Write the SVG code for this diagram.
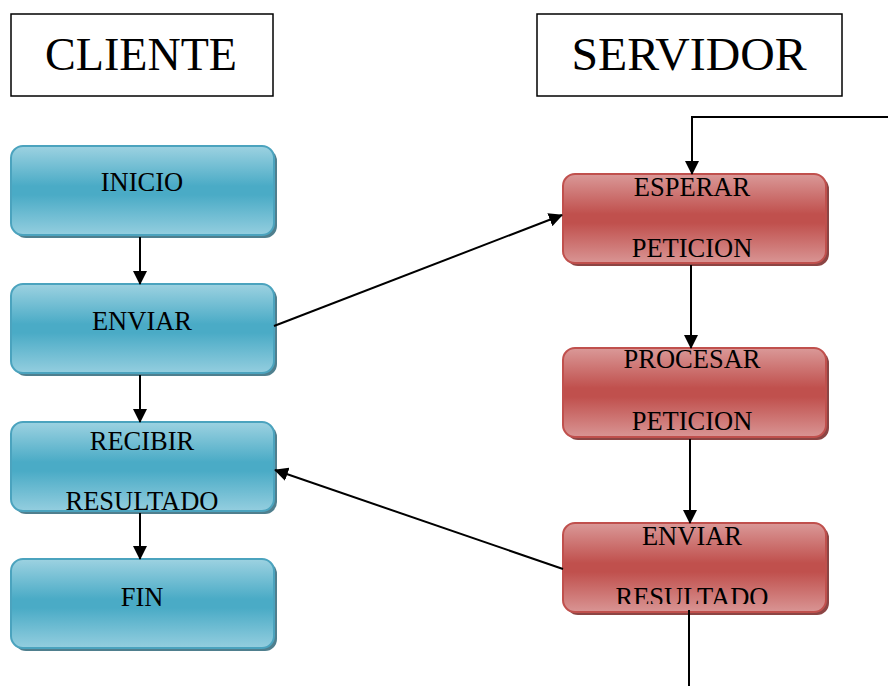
<svg xmlns="http://www.w3.org/2000/svg" width="888" height="686" viewBox="0 0 888 686">
<style>
.hdr{fill:#fff;stroke:#000;stroke-width:1.5}
.htxt{font-family:"Liberation Serif",serif;font-size:47px;fill:#000;text-anchor:middle}
.blue{fill:url(#gb);stroke:#4ba3be;stroke-width:2}
.red{fill:url(#gr);stroke:#c0504d;stroke-width:2}
.bsh{fill:#4f7f8e}
.rsh{fill:#8c4544}
.t{font-family:"Liberation Serif",serif;font-size:26.5px;fill:#000;text-anchor:middle}
.c{stroke:#000;stroke-width:2;fill:none}
</style>
<defs>
<linearGradient id="gb" x1="0" y1="0" x2="0" y2="1">
<stop offset="0" stop-color="#9dd2e1"/>
<stop offset="0.45" stop-color="#4aabc6"/>
<stop offset="0.55" stop-color="#4aabc6"/>
<stop offset="1" stop-color="#94cedf"/>
</linearGradient>
<linearGradient id="gr" x1="0" y1="0" x2="0" y2="1">
<stop offset="0" stop-color="#da9998"/>
<stop offset="0.45" stop-color="#c0504d"/>
<stop offset="0.55" stop-color="#c0504d"/>
<stop offset="1" stop-color="#d99594"/>
</linearGradient>
<marker id="ahb" markerWidth="14" markerHeight="14" refX="13" refY="7" orient="auto" markerUnits="userSpaceOnUse" viewBox="0 0 14 14">
<path d="M0,0 L14,7 L0,14 z" fill="#000"/>
</marker>
<clipPath id="clipER"><rect x="560" y="520" width="270" height="84"/></clipPath>
</defs>

<g id="hdr-cliente">
<rect class="hdr" x="11" y="14" width="262" height="82"/>
<text class="htxt" x="141" y="70" textLength="192" lengthAdjust="spacingAndGlyphs">CLIENTE</text>
</g>
<g id="hdr-servidor">
<rect class="hdr" x="537" y="14" width="305" height="82"/>
<text class="htxt" x="689" y="70" textLength="235" lengthAdjust="spacingAndGlyphs">SERVIDOR</text>
</g>

<g id="inicio">
<rect class="bsh" x="14" y="149" width="263" height="89" rx="12"/>
<rect class="blue" x="11" y="146" width="263" height="89" rx="12"/>
<text class="t" x="142" y="191">INICIO</text>
</g>
<g id="enviar">
<rect class="bsh" x="14" y="287" width="263" height="89" rx="12"/>
<rect class="blue" x="11" y="284" width="263" height="89" rx="12"/>
<text class="t" x="142" y="330">ENVIAR</text>
</g>
<g id="recibir">
<rect class="bsh" x="14" y="425" width="263" height="89" rx="12"/>
<rect class="blue" x="11" y="422" width="263" height="89" rx="12"/>
<text class="t" x="142" y="450">RECIBIR</text>
<text class="t" x="142" y="510">RESULTADO</text>
</g>
<g id="fin">
<rect class="bsh" x="14" y="562" width="263" height="89" rx="12"/>
<rect class="blue" x="11" y="559" width="263" height="89" rx="12"/>
<text class="t" x="142" y="606">FIN</text>
</g>

<g id="esperar">
<rect class="rsh" x="566" y="177" width="263" height="89" rx="12"/>
<rect class="red" x="563" y="174" width="263" height="89" rx="12"/>
<text class="t" x="692" y="196">ESPERAR</text>
<text class="t" x="692" y="257">PETICION</text>
</g>
<g id="procesar">
<rect class="rsh" x="566" y="351" width="263" height="89" rx="12"/>
<rect class="red" x="563" y="348" width="263" height="89" rx="12"/>
<text class="t" x="692" y="368">PROCESAR</text>
<text class="t" x="692" y="430">PETICION</text>
</g>
<g id="enviar-resultado">
<rect class="rsh" x="566" y="526" width="263" height="89" rx="12"/>
<rect class="red" x="563" y="523" width="263" height="89" rx="12"/>
<text class="t" x="692" y="545">ENVIAR</text>
<text class="t" x="692" y="606" clip-path="url(#clipER)">RESULTADO</text>
</g>

<g id="connectors">
<line class="c" x1="140" y1="237" x2="140" y2="284" marker-end="url(#ahb)"/>
<line class="c" x1="140" y1="375" x2="140" y2="422" marker-end="url(#ahb)"/>
<line class="c" x1="140" y1="513" x2="140" y2="559" marker-end="url(#ahb)"/>
<line class="c" x1="274" y1="326" x2="562" y2="215" marker-end="url(#ahb)"/>
<line class="c" x1="563" y1="569" x2="275" y2="470" marker-end="url(#ahb)"/>
<polyline class="c" points="888,117 692,117 692,174" marker-end="url(#ahb)"/>
<line class="c" x1="691" y1="265" x2="691" y2="348" marker-end="url(#ahb)"/>
<line class="c" x1="690" y1="439" x2="690" y2="523" marker-end="url(#ahb)"/>
<line class="c" x1="689" y1="610" x2="689" y2="686"/>
</g>
</svg>
